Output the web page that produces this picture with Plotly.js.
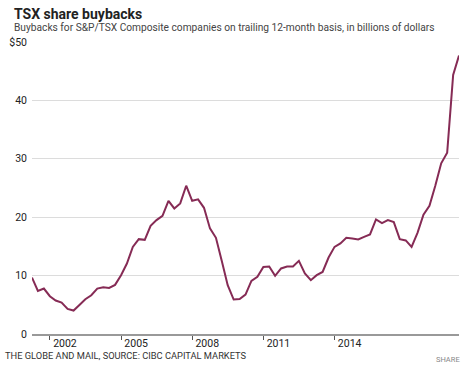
<!DOCTYPE html>
<html>
<head>
<meta charset="utf-8">
<script src="https://cdn.plot.ly/plotly-3.0.1.min.js"></script>
<style>
html,body{margin:0;padding:0;background:#fff;}
#chart{width:473px;height:370px;}
</style>
</head>
<body>
<div id="chart"></div>
<script>
// Quarterly dates (trailing 12-month, quarter ends)
var quarters = [
"2001-03-31","2001-06-30","2001-09-30","2001-12-31",
"2002-03-31","2002-06-30","2002-09-30","2002-12-31",
"2003-03-31","2003-06-30","2003-09-30","2003-12-31",
"2004-03-31","2004-06-30","2004-09-30","2004-12-31",
"2005-03-31","2005-06-30","2005-09-30","2005-12-31",
"2006-03-31","2006-06-30","2006-09-30","2006-12-31",
"2007-03-31","2007-06-30","2007-09-30","2007-12-31",
"2008-03-31","2008-06-30","2008-09-30","2008-12-31",
"2009-03-31","2009-06-30","2009-09-30","2009-12-31",
"2010-03-31","2010-06-30","2010-09-30","2010-12-31",
"2011-03-31","2011-06-30","2011-09-30","2011-12-31",
"2012-03-31","2012-06-30","2012-09-30","2012-12-31",
"2013-03-31","2013-06-30","2013-09-30","2013-12-31",
"2014-03-31","2014-06-30","2014-09-30","2014-12-31",
"2015-03-31","2015-06-30","2015-09-30","2015-12-31",
"2016-03-31","2016-06-30","2016-09-30","2016-12-31",
"2017-03-31","2017-06-30","2017-09-30","2017-12-31",
"2018-03-31","2018-06-30","2018-09-30","2018-12-31",
"2019-03-31"
];

// Buybacks, billions of dollars
var buybacks = [
9.67, 7.38, 7.78, 6.47,
5.73, 5.39, 4.29, 4.01,
4.98, 5.95, 6.64, 7.78,
8.01, 7.89, 8.41, 10.07,
12.07, 14.92, 16.24, 16.12,
18.52, 19.50, 20.24, 22.81,
21.50, 22.36, 25.39, 22.81,
23.05, 21.61, 18.08, 16.47,
12.52, 8.35, 5.90, 6.00,
6.75, 9.09, 9.78, 11.49,
11.56, 9.95, 11.22, 11.56,
11.56, 12.52, 10.36, 9.21,
10.07, 10.63, 13.10, 14.92,
15.50, 16.47, 16.36, 16.19,
16.64, 17.05, 19.62, 18.99,
19.50, 19.16, 16.24, 16.02,
14.92, 17.32, 20.41, 21.96,
25.39, 29.23, 31.05, 44.37,
47.68
];

var xTickVals = ["2002-01-01","2005-01-01","2008-01-01","2011-01-01","2014-01-01"];
var xTickText = ["2002","2005","2008","2011","2014"];
var yTickVals = [0,10,20,30,40,50];
var yTickText = ["0","10","20","30","40","$50"];

var FONT = "Roboto, 'Liberation Sans', Arial, sans-serif";

var trace = {
  x: quarters,
  y: buybacks,
  type: "scatter",
  mode: "lines",
  line: {color: "#862B55", width: 2},
  hoverinfo: "x+y"
};

var layout = {
  width: 473,
  height: 370,
  margin: {l: 32, r: 14, t: 42, b: 36},
  paper_bgcolor: "#fff",
  plot_bgcolor: "#fff",
  showlegend: false,
  font: {family: FONT, size: 10.5, color: "#333"},
  xaxis: {
    type: "date",
    range: [quarters[0], quarters[quarters.length - 1]],
    tickvals: xTickVals,
    ticktext: xTickText,
    ticks: "outside",
    ticklen: 4,
    tickwidth: 1,
    tickcolor: "#555",
    ticklabelshift: 15,
    ticklabelstandoff: -6,
    showgrid: false,
    showline: true,
    linecolor: "#999",
    linewidth: 2,
    zeroline: false,
    tickfont: {family: FONT, size: 10.5, color: "#222"},
    fixedrange: true
  },
  yaxis: {
    range: [0, 50],
    tickvals: yTickVals,
    ticktext: yTickText,
    ticks: "",
    showgrid: true,
    gridcolor: "#dcdcdc",
    gridwidth: 1,
    zeroline: false,
    showline: false,
    ticklabelstandoff: 4,
    tickfont: {family: FONT, size: 10.5, color: "#222"},
    fixedrange: true
  },
  annotations: [
    {xref: "paper", yref: "paper", x: -0.047, y: 1.097, xanchor: "left", yanchor: "middle",
     text: "<b>TSX share buybacks</b>", showarrow: false,
     font: {family: FONT, size: 14, color: "#222"}},
    {xref: "paper", yref: "paper", x: -0.047, y: 1.049, xanchor: "left", yanchor: "middle",
     text: "Buybacks for S&P/TSX Composite companies on trailing 12-month basis, in billions of dollars",
     showarrow: false, font: {family: FONT, size: 10.2, color: "#444"}},
    {xref: "paper", yref: "paper", x: -0.068, y: -0.072, xanchor: "left", yanchor: "middle",
     text: "THE GLOBE AND MAIL, SOURCE: CIBC CAPITAL MARKETS", showarrow: false,
     font: {family: FONT, size: 9.3, color: "#333"}},
    {xref: "paper", yref: "paper", x: 1.006, y: -0.088, xanchor: "right", yanchor: "middle",
     text: "SHARE", showarrow: false,
     font: {family: FONT, size: 7.5, color: "#888"}}
  ]
};

Plotly.newPlot("chart", [trace], layout, {displayModeBar: false, staticPlot: true});
</script>
</body>
</html>
